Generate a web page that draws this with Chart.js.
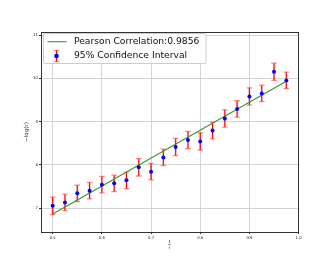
<!DOCTYPE html>
<html><head><meta charset="utf-8">
<script src="https://cdn.jsdelivr.net/npm/chart.js@4/dist/chart.umd.min.js"></script>
<style>html,body{margin:0;padding:0;background:#fff}</style>
</head><body>
<canvas id="c" width="332" height="266" style="display:block;width:332px;height:266px"></canvas>
<script>
const xValues = [0.5,0.525,0.55,0.575,0.6,0.625,0.65,0.675,0.7,0.725,0.75,0.775,0.8,0.825,0.85,0.875,0.9,0.925,0.95,0.975];
const yValues = [7.05,7.13,7.34,7.40,7.54,7.57,7.64,7.94,7.84,8.17,8.41,8.57,8.54,8.79,9.07,9.29,9.58,9.65,10.15,9.95];
const yErrors = [0.2,0.19,0.19,0.19,0.19,0.19,0.19,0.2,0.19,0.19,0.2,0.2,0.2,0.19,0.2,0.19,0.2,0.19,0.2,0.19];
const fitX = [0.5, 0.975];
const fitY = [6.86, 9.93];
const xTicks = [0.5,0.6,0.7,0.8,0.9,1.0];
const yTicks = [7,8,9,10,11];
const legendLabels = ['Pearson Correlation:0.9856','95% Confidence Interval'];
const xTitle = ['1','r'];
const yTitle = '\u2212log(r)';

const FONT = "'DejaVu Sans', sans-serif";

const bgPlugin = {
  id: 'bg',
  beforeDraw(chart) {
    const ctx = chart.ctx;
    ctx.save(); ctx.fillStyle = '#fff'; ctx.fillRect(0,0,chart.width,chart.height); ctx.restore();
  }
};

function drawErr(ctx, px, top, bot) {
  ctx.strokeStyle = 'rgba(255,0,0,0.22)'; ctx.lineWidth = 2.2;
  ctx.beginPath(); ctx.moveTo(px, top); ctx.lineTo(px, bot); ctx.stroke();
  ctx.strokeStyle = '#ff0000'; ctx.lineWidth = 1.1;
  ctx.beginPath(); ctx.moveTo(px, top); ctx.lineTo(px, bot); ctx.stroke();
  ctx.strokeStyle = 'rgba(255,60,60,0.6)'; ctx.lineWidth = 1.3;
  ctx.beginPath(); ctx.moveTo(px-2.8, top); ctx.lineTo(px+2.8, top);
  ctx.moveTo(px-2.8, bot); ctx.lineTo(px+2.8, bot); ctx.stroke();
}

const errPlugin = {
  id: 'errbars',
  beforeDatasetsDraw(chart) {
    const ctx = chart.ctx, xs = chart.scales.x, ys = chart.scales.y;
    ctx.save();
    xValues.forEach((xv, i) => {
      const px = xs.getPixelForValue(xv);
      drawErr(ctx, px, ys.getPixelForValue(yValues[i] + yErrors[i]), ys.getPixelForValue(yValues[i] - yErrors[i]));
    });
    ctx.restore();
  }
};

const framePlugin = {
  id: 'frame',
  afterDraw(chart) {
    const ctx = chart.ctx, a = chart.chartArea;
    ctx.save();
    ctx.strokeStyle = '#333'; ctx.lineWidth = 1;
    ctx.strokeRect(Math.round(a.left)+0.5, Math.round(a.top)+0.5, Math.round(a.right-a.left), Math.round(a.bottom-a.top));
    const cx = (a.left + a.right) / 2;
    ctx.fillStyle = '#222'; ctx.font = '4px ' + FONT; ctx.textAlign = 'center'; ctx.textBaseline = 'middle';
    ctx.fillText(xTitle[0], cx, 242);
    ctx.strokeStyle = '#444'; ctx.lineWidth = 0.6;
    ctx.beginPath(); ctx.moveTo(cx-1.5, 244.5); ctx.lineTo(cx+1.5, 244.5); ctx.stroke();
    ctx.fillText(xTitle[1], cx, 247.5);
    const lx = 43.5, ly = 33.5, lw = 162.5, lh = 30;
    ctx.fillStyle = 'rgba(255,255,255,0.85)';
    ctx.strokeStyle = '#cccccc'; ctx.lineWidth = 1;
    ctx.beginPath(); ctx.roundRect(lx, ly, lw, lh, 2); ctx.fill(); ctx.stroke();
    const r1 = 41.7, r2 = 56;
    ctx.strokeStyle = '#339933'; ctx.lineWidth = 1.1;
    ctx.beginPath(); ctx.moveTo(47.5, r1); ctx.lineTo(66.5, r1); ctx.stroke();
    const hx = 56.5;
    drawErr(ctx, hx, r2-5.7, r2+5.7);
    ctx.fillStyle = '#0000ff';
    ctx.beginPath(); ctx.arc(hx, r2, 2.3, 0, Math.PI*2); ctx.fill();
    ctx.fillStyle = '#111'; ctx.font = '9.2px ' + FONT; ctx.textAlign = 'left'; ctx.textBaseline = 'middle';
    ctx.fillText(legendLabels[0], 74, r1);
    ctx.fillText(legendLabels[1], 74, r2);
    ctx.restore();
  }
};

new Chart(document.getElementById('c'), {
  data: {
    datasets: [
      {
        type: 'scatter',
        data: xValues.map((x, i) => ({x, y: yValues[i]})),
        backgroundColor: '#0000ff', borderColor: '#0000ff',
        pointRadius: 2, pointBorderWidth: 0
      },
      {
        type: 'line',
        data: fitX.map((x, i) => ({x, y: fitY[i]})),
        borderColor: '#339933', borderWidth: 1.1, pointRadius: 0, fill: false, tension: 0
      }
    ]
  },
  options: {
    responsive: false, animation: false, devicePixelRatio: 1,
    layout: { padding: { top: 32, right: 34, left: 0, bottom: 0 } },
    plugins: { legend: { display: false }, tooltip: { enabled: false } },
    scales: {
      x: {
        type: 'linear', min: 0.47625, max: 0.99875,
        afterFit(s) { s.height = 34; },
        afterBuildTicks(s) { s.ticks = xTicks.map(v => ({value: v})); },
        border: { display: false },
        grid: { color: '#d4d4d4', lineWidth: 1, drawTicks: true, tickLength: 2, tickColor: '#333' },
        ticks: { font: { family: FONT, size: 3.8 }, color: '#222', padding: 1.5, maxRotation: 0, autoSkip: false,
                 callback: v => Number(v).toFixed(1) }
      },
      y: {
        type: 'linear', min: 6.445, max: 11.07,
        afterFit(s) { s.width = 41; },
        afterBuildTicks(s) { s.ticks = yTicks.map(v => ({value: v})); },
        border: { display: false },
        grid: { color: '#d4d4d4', lineWidth: 1, drawTicks: true, tickLength: 2, tickColor: '#333' },
        ticks: { font: { family: FONT, size: 3.8 }, color: '#222', padding: 1, autoSkip: false,
                 callback: v => String(v) },
        title: { display: true, text: yTitle, font: { family: FONT, size: 5.5 }, color: '#222', padding: { top: 23.7, bottom: 0 } }
      }
    }
  },
  plugins: [bgPlugin, errPlugin, framePlugin]
});
</script>
</body></html>
